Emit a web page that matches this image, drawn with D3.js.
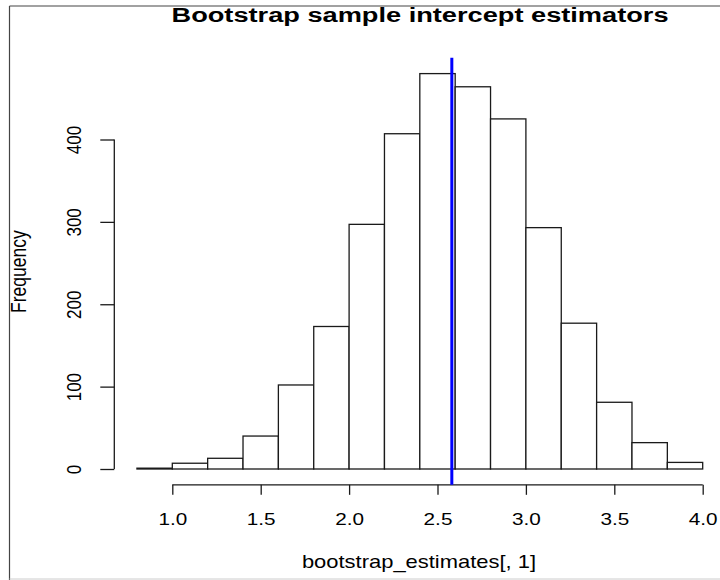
<!DOCTYPE html>
<html><head><meta charset="utf-8">
<script src="https://cdn.jsdelivr.net/npm/d3@7/dist/d3.min.js"></script>
<style>html,body{margin:0;padding:0;background:#fff;}svg{display:block;}</style>
</head><body>
<script>
const binStarts = [0.8,1.0,1.2,1.4,1.6,1.8,2.0,2.2,2.4,2.6,2.8,3.0,3.2,3.4,3.6,3.8];
const binWidth = 0.2;
const counts = [1,7,13,40,102,173,297,407,480,464,425,293,177,81,32,8];
const xTicks = [1.0,1.5,2.0,2.5,3.0,3.5,4.0];
const yTicks = [0,100,200,300,400];
const meanEstimate = 2.581;
const titleText = "Bootstrap sample intercept estimators";
const xLabel = "bootstrap_estimates[, 1]";
const yLabel = "Frequency";

const W = 720, H = 580;
const FONT = "'Liberation Sans', Arial, sans-serif";
const sx = 1.22; // horizontal stretch of the reference image

const svg = d3.select("body").append("svg").attr("width", W).attr("height", H);
svg.append("rect").attr("width", W).attr("height", H).attr("fill", "#fff");

// frame
svg.append("line").attr("x1", 9.5).attr("x2", W).attr("y1", 6).attr("y2", 6).attr("stroke", "#444").attr("stroke-width", 1.2);
svg.append("line").attr("x1", 9.5).attr("x2", 9.5).attr("y1", 6).attr("y2", H).attr("stroke", "#444").attr("stroke-width", 1.2);
svg.append("line").attr("x1", 9.5).attr("x2", W).attr("y1", 579).attr("y2", 579).attr("stroke", "#ccc").attr("stroke-width", 1);

const x = d3.scaleLinear().domain([1, 4]).range([172.3, 702.7]);
const y = d3.scaleLinear().domain([0, 400]).range([469, 139.5]);
const ymax = d3.max(counts);
const yLo = y(-0.04 * ymax), yHi = y(ymax * 1.04);

// bars
svg.append("g").selectAll("rect").data(counts).join("rect")
  .attr("x", (d, i) => x(binStarts[i]))
  .attr("width", (d, i) => x(binStarts[i] + binWidth) - x(binStarts[i]))
  .attr("y", d => y(d))
  .attr("height", d => y(0) - y(d))
  .attr("fill", "#fff").attr("stroke", "#1a1a1a").attr("stroke-width", 1.3);

// x axis
const xAxisY = yLo;
const xa = svg.append("g").attr("transform", `translate(0,${xAxisY})`)
  .call(d3.axisBottom(x).tickValues(xTicks).tickSize(10).tickFormat(d3.format(".1f")).tickSizeOuter(0));
xa.select(".domain").attr("stroke", "#1a1a1a").attr("stroke-width", 1.3).attr("d", `M${x(1)},0H${x(4)}`);
xa.selectAll(".tick line").attr("stroke", "#1a1a1a").attr("stroke-width", 1.3);
xa.selectAll(".tick text").remove();
xa.selectAll(".tick").append("text")
  .attr("transform", `translate(0,${524.5 - xAxisY}) scale(${sx},1)`)
  .attr("text-anchor", "middle").attr("fill", "#000")
  .style("font-family", FONT).style("font-size", "17px")
  .text(d => d3.format(".1f")(d));

// y axis
const yAxisX = 114.3;
const ya = svg.append("g").attr("transform", `translate(${yAxisX},0)`)
  .call(d3.axisLeft(y).tickValues(yTicks).tickSize(14).tickSizeOuter(0));
ya.select(".domain").attr("stroke", "#1a1a1a").attr("stroke-width", 1.3).attr("d", `M0,${y(0)}V${y(400)}`);
ya.selectAll(".tick line").attr("stroke", "#1a1a1a").attr("stroke-width", 1.3);
ya.selectAll(".tick text").remove();
ya.selectAll(".tick").append("text")
  .attr("transform", `translate(${81 - yAxisX},0) scale(${sx},1) rotate(-90)`)
  .attr("text-anchor", "middle").attr("fill", "#000")
  .style("font-family", FONT).style("font-size", "17px")
  .text(d => d);

// mean line
svg.append("line")
  .attr("x1", x(meanEstimate)).attr("x2", x(meanEstimate))
  .attr("y1", yHi).attr("y2", yLo)
  .attr("stroke", "#0000ff").attr("stroke-width", 3);

// title
svg.append("text")
  .attr("transform", `translate(420,22) scale(1.36,1)`)
  .attr("text-anchor", "middle").attr("fill", "#000")
  .style("font-family", FONT).style("font-size", "20px").style("font-weight", "bold")
  .text(titleText);

// x label
svg.append("text")
  .attr("transform", `translate(419,568) scale(${sx},1)`)
  .attr("text-anchor", "middle").attr("fill", "#000")
  .style("font-family", FONT).style("font-size", "18px")
  .text(xLabel);

// y label
svg.append("text")
  .attr("transform", `translate(25.5,271.6) scale(${sx},1) rotate(-90)`)
  .attr("text-anchor", "middle").attr("fill", "#000")
  .style("font-family", FONT).style("font-size", "17.5px")
  .text(yLabel);
</script>
</body></html>
